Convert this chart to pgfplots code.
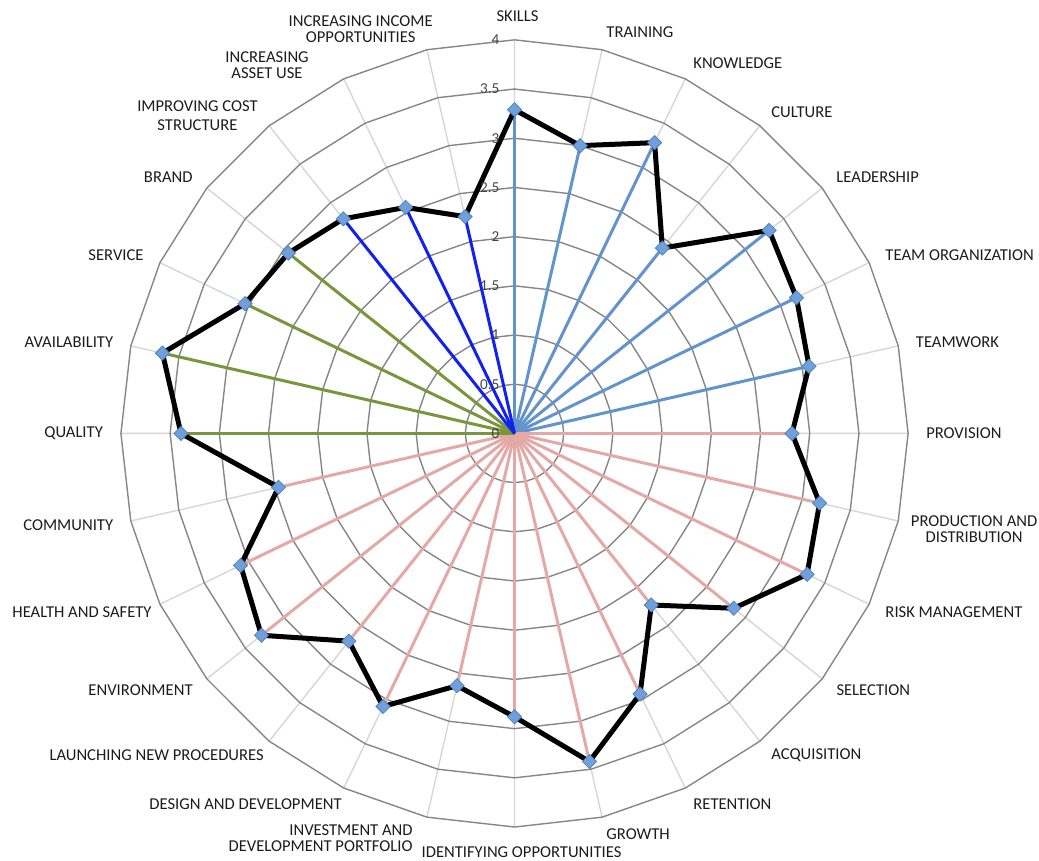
\documentclass[border=0pt]{standalone}
\usepackage{pgfplots}
\pgfplotsset{compat=1.18}
\usepackage{pgfplotstable}
\usepackage{fontspec}
\setmainfont{Carlito}

\definecolor{ringgray}{RGB}{134,134,134}
\definecolor{spokegray}{RGB}{214,214,214}
\definecolor{skyspoke}{RGB}{98,147,205}
\definecolor{royalspoke}{RGB}{18,32,240}
\definecolor{olivespoke}{RGB}{122,150,60}
\definecolor{rosespoke}{RGB}{228,168,166}
\definecolor{markfill}{RGB}{112,160,218}
\definecolor{markedge}{RGB}{84,130,195}
\definecolor{labelink}{RGB}{28,28,28}
\definecolor{tickink}{RGB}{70,70,70}

% score of each criterion, clockwise from the top; g = colour of its spoke
\pgfplotstableread{
i v g
0 3.29 skyspoke
1 3.00 skyspoke
2 3.28 skyspoke
3 2.41 skyspoke
4 3.31 skyspoke
5 3.18 skyspoke
6 3.07 skyspoke
7 2.82 rosespoke
8 3.18 rosespoke
9 3.30 rosespoke
10 2.85 rosespoke
11 2.23 rosespoke
12 2.94 rosespoke
13 3.42 rosespoke
14 2.88 rosespoke
15 2.63 rosespoke
16 3.08 rosespoke
17 2.70 rosespoke
18 3.29 rosespoke
19 3.09 rosespoke
20 2.46 rosespoke
21 3.39 olivespoke
22 3.67 olivespoke
23 3.04 olivespoke
24 2.94 olivespoke
25 2.79 royalspoke
26 2.55 royalspoke
27 2.26 royalspoke
}\scores

% category name at the end of spoke #2, anchored on side #3;
% optional #1 holds extra node options (nudges, alignment)
\newcommand\catlabel[4][]{%
  \node[anchor=#3, align=center, inner sep=0pt, text=labelink,
        font=\fontsize{8.3}{8}\selectfont, #1]
    at (axis cs:{4.18*cos(90-#2*360/28)},{4.18*sin(90-#2*360/28)}) {#4};}

\begin{document}
\begin{tikzpicture}
\begin{axis}[
  hide axis, scale only axis, clip=false,
  width=393.6pt, height=393.6pt,
  xmin=-4, xmax=4, ymin=-4, ymax=4,
]
% page extent
\coordinate (bl) at (axis cs:-5.229,-4.345);
\coordinate (tr) at (axis cs:5.330,4.405);

% radial grid lines
\draw[spokegray, line width=0.7pt]
  \foreach \k in {0,...,27}{
    (axis cs:0,0) -- (axis cs:{4*cos(90-\k*360/28)},{4*sin(90-\k*360/28)})
  };
% polygonal rings every 0.5
\pgfplotsinvokeforeach{0.5,1,1.5,2,2.5,3,3.5,4}{
  \draw[ringgray, line width=0.7pt, line join=round] (axis cs:0,#1)
    \foreach \k in {1,...,27}{
      -- (axis cs:{#1*cos(90-\k*360/28)},{#1*sin(90-\k*360/28)})
    } -- cycle;
}

% coloured spokes, one per criterion
\pgfplotsinvokeforeach{0,...,27}{
  \pgfplotstablegetelem{#1}{v}\of\scores
  \let\val\pgfplotsretval
  \pgfplotstablegetelem{#1}{g}\of\scores
  \let\col\pgfplotsretval
  \pgfmathsetmacro\ang{90-#1*360/28}
  \edef\spoke{\noexpand\addplot[draw=\col, line width=1.5pt, no marks,
      data cs=polar, forget plot] coordinates {(\ang,0) (\ang,\val)};}
  \spoke
}

% score outline
\addplot[black, line width=2.5pt, line join=round, no marks, data cs=polar]
  table[x expr={90-\thisrow{i}*360/28}, y=v] {\scores} -- cycle;
% score markers
\addplot[only marks, data cs=polar, mark=square*, mark size=2.5pt,
  mark options={rotate=45, fill=markfill, draw=markedge, line width=0.4pt}]
  table[x expr={90-\thisrow{i}*360/28}, y=v] {\scores};

% scale labels along the top spoke
\pgfplotsinvokeforeach{0,0.5,1,1.5,2,2.5,3,3.5,4}{
  \node[anchor=east, inner sep=0pt, text=tickink, font=\fontsize{7.6}{8}\selectfont]
    at (axis cs:-0.15,#1) {#1};
}

\catlabel[xshift=1.5pt]{0}{south}{SKILLS}
\catlabel{1}{west}{TRAINING}
\catlabel{2}{west}{KNOWLEDGE}
\catlabel{3}{west}{CULTURE}
\catlabel{4}{west}{LEADERSHIP}
\catlabel{5}{west}{TEAM ORGANIZATION}
\catlabel{6}{west}{TEAMWORK}
\catlabel{7}{west}{PROVISION}
\catlabel[xshift=-2.5pt, yshift=-2pt]{8}{west}{PRODUCTION AND\\DISTRIBUTION}
\catlabel{9}{west}{RISK MANAGEMENT}
\catlabel{10}{west}{SELECTION}
\catlabel{11}{west}{ACQUISITION}
\catlabel{12}{west}{RETENTION}
\catlabel{13}{west}{GROWTH}
\catlabel[xshift=3.5pt, yshift=-0.8pt]{14}{north}{IDENTIFYING OPPORTUNITIES}
\catlabel[align=right, xshift=-5pt, yshift=-1.8pt]{15}{east}{INVESTMENT AND\\DEVELOPMENT PORTFOLIO}
\catlabel[xshift=3pt]{16}{east}{DESIGN AND DEVELOPMENT}
\catlabel[xshift=3pt]{17}{east}{LAUNCHING NEW PROCEDURES}
\catlabel{18}{east}{ENVIRONMENT}
\catlabel[xshift=4pt]{19}{east}{HEALTH AND SAFETY}
\catlabel{20}{east}{COMMUNITY}
\catlabel{21}{east}{QUALITY}
\catlabel{22}{east}{AVAILABILITY}
\catlabel{23}{east}{SERVICE}
\catlabel{24}{east}{BRAND}
\catlabel[yshift=-2pt, font=\fontsize{8.3}{9.6}\selectfont]{25}{east}{IMPROVING COST\\STRUCTURE}
\catlabel[xshift=-13.5pt, yshift=-1pt]{26}{east}{INCREASING\\ASSET USE}
\catlabel[xshift=5pt, yshift=1.7pt]{27}{east}{INCREASING INCOME\\OPPORTUNITIES}
\end{axis}
\pgfresetboundingbox
\path[use as bounding box] (bl) rectangle (tr);
\end{tikzpicture}
\end{document}
